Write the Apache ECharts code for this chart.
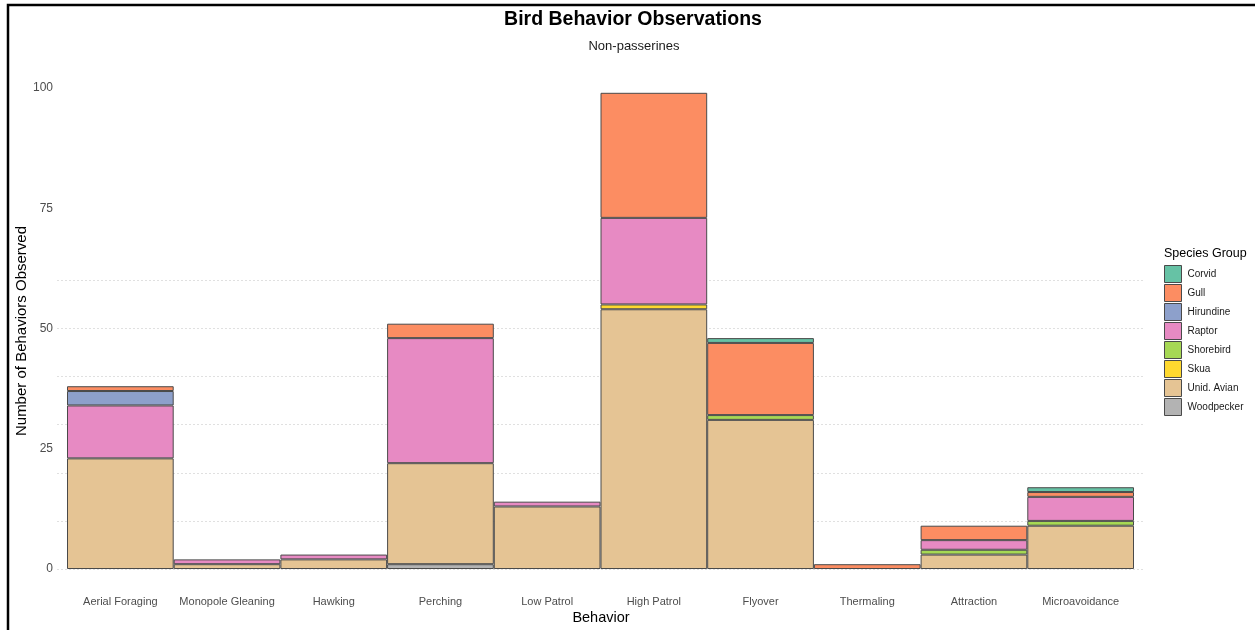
<!DOCTYPE html>
<html>
<head>
<meta charset="utf-8">
<script src="https://cdn.jsdelivr.net/npm/echarts@6/dist/echarts.min.js"></script>
<style>html,body{margin:0;padding:0;background:#fff;}#c{width:1255px;height:630px;}</style>
</head>
<body>
<div id="c"></div>
<script>
const categories = ['Aerial Foraging','Monopole Gleaning','Hawking','Perching','Low Patrol','High Patrol','Flyover','Thermaling','Attraction','Microavoidance'];
const corvid     = [0,0,0,0,0,0,1,0,0,1];
const gull       = [1,0,0,3,0,26,15,1,3,1];
const hirundine  = [3,0,0,0,0,0,0,0,0,0];
const raptor     = [11,1,1,26,1,18,0,0,2,5];
const shorebird  = [0,0,0,0,0,0,1,0,1,1];
const skua       = [0,0,0,0,0,1,0,0,0,0];
const unidAvian  = [23,1,2,21,13,54,31,0,3,9];
const woodpecker = [0,0,0,1,0,0,0,0,0,0];
const yTicks = [0,25,50,75,100];
const gridValues = [0,10,20,30,40,50,60];

const legendOrder = ['Corvid','Gull','Hirundine','Raptor','Shorebird','Skua','Unid. Avian','Woodpecker'];
// stacking order bottom -> top
const stackSeries = [
  ['Woodpecker', woodpecker, '#B3B3B3'],
  ['Unid. Avian', unidAvian, '#E5C494'],
  ['Skua', skua, '#FFD92F'],
  ['Shorebird', shorebird, '#A6D854'],
  ['Raptor', raptor, '#E78AC3'],
  ['Hirundine', hirundine, '#8DA0CB'],
  ['Gull', gull, '#FC8D62'],
  ['Corvid', corvid, '#66C2A5']
];

const FONT = 'Liberation Sans, Arial, sans-serif';
const chart = echarts.init(document.getElementById('c'), null, {renderer:'canvas'});

const series = stackSeries.map(([name, vals, color]) => ({
  name, type:'bar', stack:'total', xAxisIndex:0, yAxisIndex:0,
  barCategoryGap:'0%', barGap:'0%',
  data: vals.map(v => v === 0 ? '-' : v),
  itemStyle:{color, borderColor:'#4a4a4a', borderWidth:1},
  emphasis:{disabled:true}
}));

chart.setOption({
  animation:false,
  backgroundColor:'#ffffff',
  textStyle:{fontFamily:FONT},
  grid:[
    {left:67, right:121, top:88, bottom:61, containLabel:false},
    {left:57, right:110, top:569 - 60*4.81, bottom:61, containLabel:false}
  ],
  xAxis:[
    {type:'category', gridIndex:0, data:categories,
     axisLine:{show:false}, axisTick:{show:false}, splitLine:{show:false},
     axisLabel:{color:'#4d4d4d', fontSize:11, margin:27, interval:0, fontFamily:FONT}},
    {type:'value', gridIndex:1, min:0, max:1, show:false}
  ],
  yAxis:[
    {type:'value', gridIndex:0, min:yTicks[0], max:yTicks[yTicks.length-1], interval:25,
     axisLine:{show:false}, axisTick:{show:false}, splitLine:{show:false},
     axisLabel:{color:'#4d4d4d', fontSize:12, margin:14, fontFamily:FONT}},
    {type:'value', gridIndex:1, min:gridValues[0], max:gridValues[gridValues.length-1], interval:10,
     axisLine:{show:false}, axisTick:{show:false}, axisLabel:{show:false},
     splitLine:{show:true, lineStyle:{color:'#e0e0e0', type:[2,2], width:1}}}
  ],
  legend:{
    data:legendOrder, orient:'vertical', left:1159, top:260,
    itemWidth:17, itemHeight:17, itemGap:1, icon:'rect',
    itemStyle:{borderColor:'#4a4a4a', borderWidth:1},
    textStyle:{fontSize:10, color:'#1a1a1a', fontFamily:FONT, padding:[0,0,0,1]},
    selectedMode:false
  },
  graphic:[
    {type:'rect', shape:{x:8, y:5, width:1400, height:800}, style:{fill:'none', stroke:'#000', lineWidth:2.5}, silent:true, z:100},
    {type:'text', x:633, y:20, style:{text:'Bird Behavior Observations', font:'bold 19.5px ' + FONT, fill:'#000', align:'center', verticalAlign:'middle'}},
    {type:'text', x:634, y:46, style:{text:'Non-passerines', font:'13px ' + FONT, fill:'#1a1a1a', align:'center', verticalAlign:'middle'}},
    {type:'text', x:601, y:618, style:{text:'Behavior', font:'14.5px ' + FONT, fill:'#000', align:'center', verticalAlign:'middle'}},
    {type:'text', x:22, y:331, rotation:Math.PI/2, style:{text:'Number of Behaviors Observed', font:'15px ' + FONT, fill:'#000', align:'center', verticalAlign:'middle'}},
    {type:'text', x:1164, y:254, style:{text:'Species Group', font:'12.5px ' + FONT, fill:'#000', align:'left', verticalAlign:'middle'}}
  ],
  series: series.concat([{type:'line', xAxisIndex:1, yAxisIndex:1, data:[], silent:true}])
});
</script>
</body>
</html>
